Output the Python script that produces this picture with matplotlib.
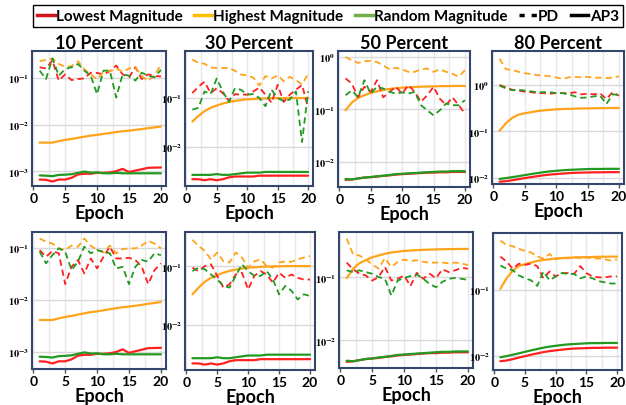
import math
import matplotlib
matplotlib.use('Agg')
import matplotlib.pyplot as plt
from matplotlib.lines import Line2D
from matplotlib.ticker import FixedLocator, FuncFormatter, MultipleLocator, NullLocator

# epochs shared by every panel
epochs = list(range(1, 21))

# AP3 curves (same in both rows)
ap3_10_low = [6.6e-4, 6.5e-4, 6.0e-4, 6.6e-4, 6.6e-4, 7.2e-4, 8.5e-4, 8.8e-4, 8.8e-4, 9.2e-4,
              9.2e-4, 9.4e-4, 1.0e-3, 1.12e-3, 9.6e-4, 1.03e-3, 1.1e-3, 1.18e-3, 1.19e-3, 1.2e-3]
ap3_10_high = [0.0041, 0.0041, 0.0041, 0.0044, 0.0047, 0.0049, 0.0052, 0.0055, 0.0058, 0.0060,
               0.0063, 0.0066, 0.0069, 0.0072, 0.0074, 0.0077, 0.0080, 0.0084, 0.0087, 0.0091]
ap3_10_rand = [8.1e-4, 8.0e-4, 7.8e-4, 8.3e-4, 8.4e-4, 8.6e-4, 9.2e-4, 9.8e-4, 9.3e-4, 9.4e-4,
               9.0e-4, 9.0e-4, 9.2e-4, 9.0e-4, 9.0e-4, 9.0e-4, 9.0e-4, 9.0e-4, 9.0e-4, 9.0e-4]

ap3_30_low = [0.0022, 0.0022, 0.0021, 0.0022, 0.0021, 0.0022, 0.0024, 0.0025, 0.0025, 0.0025,
              0.0025, 0.0026, 0.0026, 0.0026, 0.0026, 0.0026, 0.0026, 0.0026, 0.0026, 0.0026]
ap3_30_high = [0.033, 0.043, 0.054, 0.063, 0.070, 0.077, 0.083, 0.087, 0.091, 0.094,
               0.095, 0.097, 0.098, 0.099, 0.099, 0.1, 0.1, 0.1, 0.1, 0.1]
ap3_30_rand = [0.0027, 0.0027, 0.0027, 0.0027, 0.0028, 0.0027, 0.0027, 0.0028, 0.0029, 0.0030,
               0.0030, 0.0030, 0.0031, 0.0031, 0.0031, 0.0031, 0.0031, 0.0031, 0.0031, 0.0031]

ap3_50_low = [0.0045, 0.0046, 0.0048, 0.0050, 0.0051, 0.0052, 0.0054, 0.0055, 0.0057, 0.0058,
              0.0059, 0.0060, 0.0061, 0.0062, 0.0062, 0.0063, 0.0063, 0.0064, 0.0064, 0.0064]
ap3_50_high = [0.096, 0.135, 0.166, 0.186, 0.206, 0.22, 0.235, 0.246, 0.253, 0.26,
               0.264, 0.268, 0.271, 0.273, 0.275, 0.277, 0.278, 0.279, 0.28, 0.28]
ap3_50_rand = [0.0047, 0.0046, 0.0048, 0.0050, 0.0051, 0.0053, 0.0054, 0.0056, 0.0058, 0.0059,
               0.0060, 0.0061, 0.0062, 0.0063, 0.0064, 0.0065, 0.0065, 0.0066, 0.0066, 0.0066]

ap3_80_low = [0.0083, 0.0085, 0.0089, 0.0094, 0.0099, 0.0104, 0.0109, 0.0114, 0.0118, 0.0121,
              0.0124, 0.0127, 0.0129, 0.0130, 0.0131, 0.0132, 0.0132, 0.0133, 0.0133, 0.0133]
ap3_80_high = [0.104, 0.15, 0.195, 0.23, 0.246, 0.26, 0.275, 0.285, 0.292, 0.3,
               0.304, 0.307, 0.31, 0.312, 0.314, 0.316, 0.318, 0.319, 0.32, 0.32]
ap3_80_rand = [0.0095, 0.0099, 0.0104, 0.0109, 0.0115, 0.0121, 0.0127, 0.0133, 0.0138, 0.0142,
               0.0146, 0.0149, 0.0151, 0.0153, 0.0155, 0.0156, 0.0156, 0.0157, 0.0157, 0.0157]

# PD curves, top row
pd_top_10_low = [0.17, 0.16, 0.24, 0.088, 0.12, 0.09, 0.095, 0.098, 0.13, 0.128,
                 0.12, 0.14, 0.185, 0.12, 0.103, 0.17, 0.095, 0.12, 0.11, 0.108]
pd_top_10_high = [0.23, 0.245, 0.26, 0.20, 0.174, 0.18, 0.23, 0.153, 0.12, 0.094,
                  0.136, 0.14, 0.16, 0.136, 0.16, 0.17, 0.11, 0.086, 0.116, 0.19]
pd_top_10_rand = [0.144, 0.095, 0.265, 0.112, 0.156, 0.17, 0.2, 0.144, 0.112, 0.045,
                  0.144, 0.144, 0.038, 0.12, 0.112, 0.088, 0.13, 0.112, 0.103, 0.15]

pd_top_30_low = [0.126, 0.17, 0.215, 0.126, 0.158, 0.126, 0.088, 0.12, 0.117, 0.117,
                 0.136, 0.163, 0.117, 0.08, 0.185, 0.083, 0.117, 0.147, 0.185, 0.063]
pd_top_30_high = [0.61, 0.52, 0.50, 0.42, 0.41, 0.41, 0.41, 0.36, 0.30, 0.29,
                  0.26, 0.18, 0.28, 0.25, 0.29, 0.22, 0.27, 0.23, 0.19, 0.31]
pd_top_30_rand = [0.058, 0.063, 0.136, 0.12, 0.25, 0.136, 0.083, 0.158, 0.147, 0.117,
                  0.12, 0.1, 0.068, 0.147, 0.1, 0.086, 0.093, 0.136, 0.0126, 0.136]

pd_top_50_low = [0.39, 0.31, 0.17, 0.27, 0.216, 0.36, 0.17, 0.216, 0.27, 0.2,
                 0.29, 0.216, 0.14, 0.186, 0.27, 0.16, 0.12, 0.17, 0.12, 0.083]
pd_top_50_high = [1.0, 0.86, 0.77, 0.83, 0.84, 0.80, 0.69, 0.58, 0.62, 0.58,
                  0.52, 0.52, 0.58, 0.60, 0.52, 0.58, 0.52, 0.48, 0.42, 0.56]
pd_top_50_rand = [0.186, 0.23, 0.17, 0.36, 0.2, 0.27, 0.25, 0.216, 0.2, 0.21,
                  0.2, 0.216, 0.12, 0.096, 0.077, 0.096, 0.13, 0.12, 0.12, 0.15]

pd_top_80_low = [1.0, 0.89, 0.79, 0.76, 0.72, 0.70, 0.67, 0.67, 0.65, 0.67,
                 0.67, 0.66, 0.70, 0.63, 0.65, 0.63, 0.66, 0.50, 0.70, 0.59]
pd_top_80_high = [3.7, 2.2, 2.1, 1.93, 1.8, 1.72, 1.64, 1.59, 1.54, 1.46,
                  1.35, 1.46, 1.5, 1.46, 1.5, 1.44, 1.44, 1.41, 1.44, 1.54]
pd_top_80_rand = [0.97, 0.85, 0.77, 0.79, 0.76, 0.73, 0.70, 0.70, 0.70, 0.67,
                  0.67, 0.63, 0.57, 0.53, 0.54, 0.57, 0.59, 0.39, 0.63, 0.61]

# PD curves, bottom row
pd_bot_10_low = [0.09, 0.067, 0.086, 0.078, 0.02, 0.043, 0.058, 0.032, 0.062, 0.04,
                 0.067, 0.105, 0.062, 0.062, 0.064, 0.058, 0.043, 0.02, 0.037, 0.05]
pd_bot_10_high = [0.15, 0.13, 0.12, 0.097, 0.09, 0.11, 0.104, 0.15, 0.11, 0.09,
                  0.081, 0.11, 0.078, 0.094, 0.097, 0.097, 0.11, 0.135, 0.12, 0.097]
pd_bot_10_rand = [0.084, 0.05, 0.072, 0.097, 0.084, 0.037, 0.054, 0.105, 0.078, 0.09,
                  0.084, 0.078, 0.04, 0.043, 0.02, 0.043, 0.058, 0.054, 0.078, 0.072]

pd_bot_30_low = [0.094, 0.082, 0.1, 0.107, 0.068, 0.043, 0.049, 0.072, 0.077, 0.04,
                 0.068, 0.082, 0.072, 0.052, 0.077, 0.063, 0.072, 0.063, 0.059, 0.059]
pd_bot_30_high = [0.28, 0.22, 0.18, 0.13, 0.17, 0.12, 0.115, 0.17, 0.14, 0.094,
                  0.12, 0.13, 0.1, 0.094, 0.115, 0.12, 0.118, 0.13, 0.14, 0.148]
pd_bot_30_rand = [0.082, 0.094, 0.088, 0.072, 0.059, 0.046, 0.043, 0.068, 0.107, 0.082,
                  0.068, 0.068, 0.082, 0.059, 0.033, 0.046, 0.038, 0.027, 0.033, 0.031]

pd_bot_50_low = [0.17, 0.133, 0.113, 0.106, 0.088, 0.1, 0.145, 0.088, 0.094, 0.106,
                 0.072, 0.117, 0.094, 0.113, 0.096, 0.133, 0.12, 0.128, 0.14, 0.136]
pd_bot_50_high = [0.41, 0.23, 0.22, 0.19, 0.16, 0.136, 0.2, 0.145, 0.174, 0.19,
                  0.18, 0.185, 0.175, 0.17, 0.17, 0.17, 0.165, 0.17, 0.165, 0.155]
pd_bot_50_rand = [0.128, 0.12, 0.128, 0.12, 0.113, 0.1, 0.094, 0.051, 0.088, 0.097,
                  0.104, 0.11, 0.094, 0.078, 0.069, 0.084, 0.094, 0.097, 0.094, 0.09]

pd_bot_80_low = [0.32, 0.27, 0.21, 0.25, 0.24, 0.25, 0.23, 0.15, 0.19, 0.16,
                 0.18, 0.18, 0.175, 0.23, 0.18, 0.16, 0.155, 0.155, 0.16, 0.16]
pd_bot_80_high = [0.56, 0.48, 0.46, 0.42, 0.39, 0.37, 0.32, 0.30, 0.35, 0.29,
                  0.31, 0.30, 0.32, 0.30, 0.31, 0.30, 0.30, 0.29, 0.28, 0.29]
pd_bot_80_rand = [0.235, 0.21, 0.2, 0.166, 0.15, 0.14, 0.115, 0.19, 0.14, 0.16,
                  0.18, 0.175, 0.175, 0.15, 0.16, 0.15, 0.136, 0.13, 0.125, 0.125]

titles = ['10 Percent', '30 Percent', '50 Percent', '80 Percent']
legend_labels = ['Lowest Magnitude', 'Highest Magnitude', 'Random Magnitude', 'PD', 'AP3']

RED, ORANGE, GREEN = '#ff2020', '#ffa31a', '#229a22'
FRAME = '#34466b'

plt.rcParams['font.family'] = ['Lato', 'DejaVu Sans']
plt.rcParams['mathtext.fontset'] = 'stix'

W, H = 626, 406
fig = plt.figure(figsize=(W / 100, H / 100), dpi=100)


def add_px_axes(left, right, top, bottom):
    return fig.add_axes([left / W, 1 - bottom / H, (right - left) / W, (bottom - top) / H])


def log_label(v, pos):
    return r'$\mathbf{10^{%d}}$' % int(round(math.log10(v)))


# (box in px, ylim, pd series, ap3 series)
panels = [
    ((32, 166, 52, 187), (4.8e-4, 0.38), (pd_top_10_low, pd_top_10_high, pd_top_10_rand),
     (ap3_10_low, ap3_10_high, ap3_10_rand)),
    ((185, 313, 52, 187), (1.6e-3, 0.91), (pd_top_30_low, pd_top_30_high, pd_top_30_rand),
     (ap3_30_low, ap3_30_high, ap3_30_rand)),
    ((338, 470, 52, 188), (3.3e-3, 1.3), (pd_top_50_low, pd_top_50_high, pd_top_50_rand),
     (ap3_50_low, ap3_50_high, ap3_50_rand)),
    ((492, 624, 52, 185), (7.4e-3, 5.4), (pd_top_80_low, pd_top_80_high, pd_top_80_rand),
     (ap3_80_low, ap3_80_high, ap3_80_rand)),
    ((32, 166, 233, 370), (4.7e-4, 0.2), (pd_bot_10_low, pd_bot_10_high, pd_bot_10_rand),
     (ap3_10_low, ap3_10_high, ap3_10_rand)),
    ((185, 315, 233, 371), (1.7e-3, 0.38), (pd_bot_30_low, pd_bot_30_high, pd_bot_30_rand),
     (ap3_30_low, ap3_30_high, ap3_30_rand)),
    ((339, 473, 233, 369), (3.6e-3, 0.52), (pd_bot_50_low, pd_bot_50_high, pd_bot_50_rand),
     (ap3_50_low, ap3_50_high, ap3_50_rand)),
    ((493, 622, 234, 371), (6.1e-3, 0.73), (pd_bot_80_low, pd_bot_80_high, pd_bot_80_rand),
     (ap3_80_low, ap3_80_high, ap3_80_rand)),
]

for i, (box, ylim, pd_series, ap3_series) in enumerate(panels):
    ax = add_px_axes(*box)
    colors = [RED, ORANGE, GREEN]
    for ys, c in zip(ap3_series, colors):
        ax.plot(epochs, ys, color=c, lw=1.6, solid_capstyle='round')
    for ys, c in zip(pd_series, colors):
        ax.plot(epochs, ys, color=c, lw=1.3, ls=(0, (3.5, 2.2)))

    ax.set_yscale('log')
    ax.set_ylim(*ylim)
    ax.set_xlim(-0.2, 20.8)
    lo = math.ceil(math.log10(ylim[0]))
    hi = math.floor(math.log10(ylim[1]))
    ax.yaxis.set_major_locator(FixedLocator([10.0 ** k for k in range(lo, hi + 1)]))
    ax.yaxis.set_minor_locator(NullLocator())
    ax.yaxis.set_major_formatter(FuncFormatter(log_label))
    ax.xaxis.set_major_locator(MultipleLocator(5))
    ax.xaxis.set_minor_locator(MultipleLocator(2.5))

    ax.grid(axis='y', which='major', color='#d9d9d9', lw=1.0)
    ax.grid(axis='x', which='both', color='#e8e8e8', lw=1.0)
    ax.set_axisbelow(True)

    ax.tick_params(axis='y', length=0, pad=2, labelsize=7.5)
    ax.tick_params(axis='x', which='major', length=3, width=1, color='#555555', pad=1, labelsize=10)
    ax.tick_params(axis='x', which='minor', length=0)
    for lab in ax.get_xticklabels():
        lab.set_fontweight('bold')
    for sp in ax.spines.values():
        sp.set_color(FRAME)
        sp.set_linewidth(1.5)

    ax.set_xlabel('Epoch', fontsize=13, fontweight='bold', labelpad=0)
    if i < 4:
        ax.set_title(titles[i], fontsize=13, fontweight='bold', pad=2)

handles = [
    Line2D([], [], color='#d0141c', lw=2.5),
    Line2D([], [], color='#ffc000', lw=2.5),
    Line2D([], [], color='#70ad47', lw=2.5),
    Line2D([], [], color='black', lw=2.5, ls=(0, (1.5, 2.0))),
    Line2D([], [], color='black', lw=2.5),
]
fig.legend(handles, legend_labels, loc='center', bbox_to_anchor=(328 / W, 1 - 17 / H), ncol=5,
           frameon=True, fancybox=False, edgecolor='black', framealpha=1,
           prop={'weight': 'bold', 'size': 11}, handlelength=1.15, handletextpad=0.1,
           columnspacing=0.75, borderpad=0.25, borderaxespad=0)

fig.savefig('out.png', dpi=100)
